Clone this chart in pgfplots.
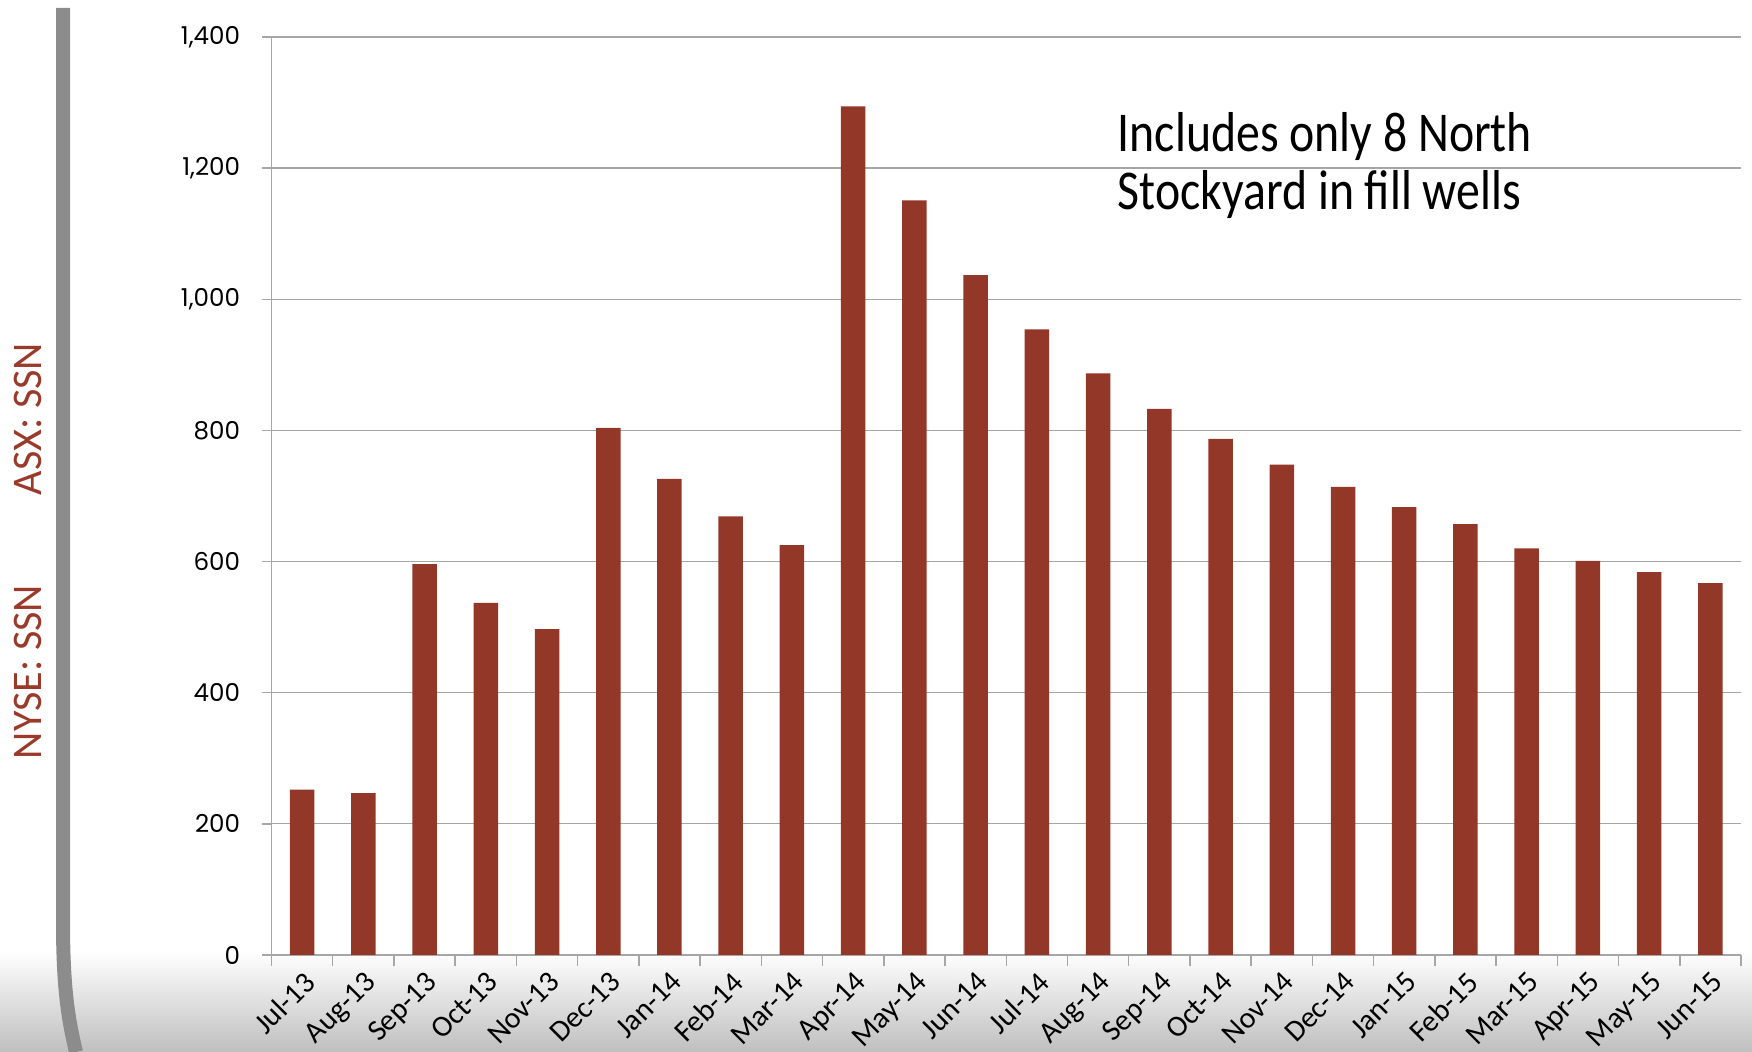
\documentclass[border=0pt]{standalone}
\usepackage{graphicx}
\usepackage{pgfplots}
\pgfplotsset{compat=1.18}
\usepackage{fontspec}
\setmainfont{Carlito}
\newfontfamily\tickfont{Poppins}
\definecolor{barred}{HTML}{933728}
\definecolor{gridgray}{HTML}{A6A6A6}
\definecolor{labred}{HTML}{9A3A2A}
\begin{document}
\begin{tikzpicture}[x=1cm,y=1cm]
\useasboundingbox (0,0) rectangle (17.52,10.52);
\shade[top color=white, bottom color=black!25] (0,0) rectangle (17.52,1.0);
\draw[line width=0.14cm, color=black!45] (0.63,10.44) -- (0.63,1.3) .. controls (0.63,0.6) and (0.69,0.3) .. (0.76,0);
\node[rotate=90, font=\fontsize{12}{14}\selectfont, text=labred, inner sep=0pt] at (0.28,3.80) {NYSE: SSN};
\node[rotate=90, font=\fontsize{12}{14}\selectfont, text=labred, inner sep=0pt] at (0.28,6.33) {ASX: SSN};
\begin{axis}[
  at={(2.715cm,0.97cm)}, anchor=south west,
  width=14.695cm, height=9.18cm, scale only axis,
  xmin=-0.5, xmax=23.5, ymin=0, ymax=1400,
  axis x line=bottom, axis y line=left,
  axis line style={-, draw=gridgray, line width=0.015cm},
  ytick={0,200,...,1400},
  ymajorgrids, grid style={draw=gridgray, line width=0.013cm},
  tick align=outside,
  major tick length=0.09cm,
  xtick={0,...,23},
  xticklabels={Jul-13,Aug-13,Sep-13,Oct-13,Nov-13,Dec-13,Jan-14,Feb-14,Mar-14,Apr-14,May-14,Jun-14,Jul-14,Aug-14,Sep-14,Oct-14,Nov-14,Dec-14,Jan-15,Feb-15,Mar-15,Apr-15,May-15,Jun-15},
  xtick style={draw=none},
  minor xtick={-0.5,0.5,...,23.5},
  minor tick length=0.11cm,
  minor x tick style={draw=gridgray, line width=0.015cm},
  ytick style={draw=gridgray, line width=0.015cm},
  /pgf/number format/1000 sep={,},
  /pgf/number format/assume math mode=true,
  yticklabel style={font=\tickfont\fontsize{7}{8}\selectfont, xshift=-0.1cm},
  xticklabel style={rotate=45, anchor=north east, font=\fontsize{8.5}{10}\selectfont, inner sep=1pt},
]
\addplot[ybar, bar width=0.245cm, fill=barred, draw=none] coordinates {
(0,252) (1,247) (2,596) (3,537) (4,497) (5,804) (6,726) (7,669) (8,625) (9,1294) (10,1151) (11,1037)
(12,954) (13,887) (14,833) (15,787) (16,748) (17,714) (18,683) (19,657) (20,620) (21,601) (22,584) (23,567)
};
\end{axis}
\node[anchor=north west, inner sep=0pt] at (11.17,9.42) {\fontsize{16}{16.5}\selectfont\scalebox{0.85}[1.0]{\begin{tabular}{@{}l@{}}Includes only 8 North\\Stockyard in fill wells\end{tabular}}};
\end{tikzpicture}
\end{document}
